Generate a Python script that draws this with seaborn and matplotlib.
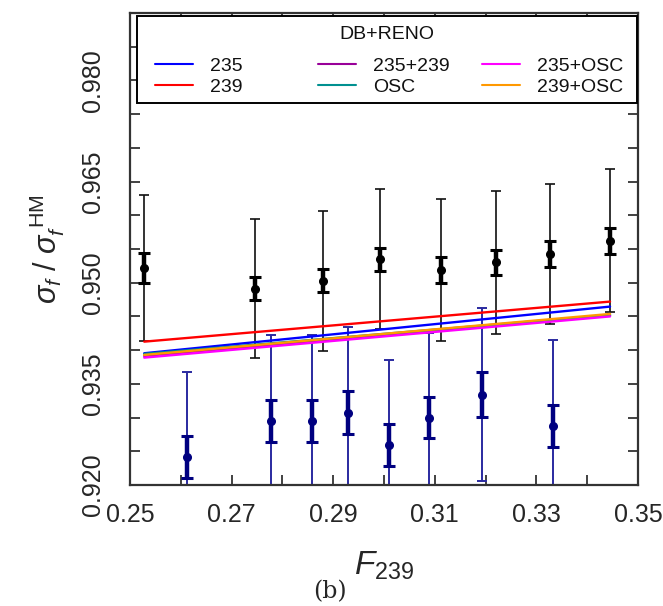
import numpy as np
import pandas as pd
import matplotlib
matplotlib.use("Agg")
import matplotlib.pyplot as plt
from matplotlib.ticker import MultipleLocator, FixedLocator
from matplotlib.patches import Rectangle
from matplotlib.legend import Legend
import seaborn as sns

# ---------------- data ----------------
# Daya Bay (black)
db_f239 = [0.2528, 0.2747, 0.2880, 0.2993, 0.3113, 0.3221, 0.3327, 0.3445]
db_ratio = [0.9522, 0.9491, 0.9503, 0.9535, 0.9519, 0.9530, 0.9543, 0.9562]
db_stat = [0.0022, 0.0017, 0.0017, 0.0017, 0.0019, 0.0019, 0.0019, 0.0019]
db_tot = [0.0108, 0.0103, 0.0104, 0.0104, 0.0105, 0.0106, 0.0104, 0.0106]

# RENO (navy)
reno_f239 = [0.2612, 0.2777, 0.2859, 0.2930, 0.3009, 0.3088, 0.3192, 0.3333]
reno_ratio = [0.9241, 0.9295, 0.9295, 0.9307, 0.9259, 0.9300, 0.9334, 0.9287]
reno_stat = [0.0031, 0.0031, 0.0031, 0.0032, 0.0031, 0.0031, 0.0033, 0.0031]
reno_tot = [0.0127, 0.0128, 0.0128, 0.0128, 0.0126, 0.0126, 0.0128, 0.0128]

# fit lines (start / end)
fit_x = [0.2528, 0.3445]
fit_models = ["235", "239", "235+239", "OSC", "235+OSC", "239+OSC"]
fit_235 = [0.93954, 0.94646]
fit_239 = [0.94126, 0.94720]
fit_235_239 = [0.93914, 0.94515]
fit_osc = [0.93944, 0.94522]
fit_235_osc = [0.93889, 0.94500]
fit_239_osc = [0.93929, 0.94537]
fit_colors = ["#0000ff", "#ff0000", "#990099", "#009090", "#ff00ff", "#ff9900"]

x_ticklabels = ["0.25", "0.27", "0.29", "0.31", "0.33", "0.35"]
y_ticklabels = ["0.920", "0.935", "0.950", "0.965", "0.980"]
legend_title = "DB+RENO"

# ---------------- style ----------------
sns.set_theme(style="ticks")
plt.rcParams["font.family"] = ["Liberation Sans", "DejaVu Sans"]
plt.rcParams["mathtext.fontset"] = "custom"
plt.rcParams["mathtext.rm"] = "Liberation Sans"
plt.rcParams["mathtext.it"] = "Liberation Sans:italic"
plt.rcParams["mathtext.bf"] = "Liberation Sans:bold"

fig = plt.figure(figsize=(6.63, 6.06), dpi=100)
ax = fig.add_axes([130 / 663, 1 - 485 / 606, 508 / 663, 472 / 606])

# error bars: Daya Bay
ax.errorbar(db_f239, db_ratio, yerr=db_tot, fmt="none", ecolor="#111111",
            elinewidth=1.2, capsize=3.5, capthick=1.2, zorder=2)
ax.errorbar(db_f239, db_ratio, yerr=db_stat, fmt="o", color="#000000",
            ms=5.5, elinewidth=3.2, capsize=4, capthick=2.2, zorder=3)
# error bars: RENO
ax.errorbar(reno_f239, reno_ratio, yerr=reno_tot, fmt="none", ecolor="#2a2aa0",
            elinewidth=1.4, capsize=3.5, capthick=1.4, zorder=2)
ax.errorbar(reno_f239, reno_ratio, yerr=reno_stat, fmt="o", color="#000080",
            ms=5.5, elinewidth=3.2, capsize=4, capthick=2.2, zorder=3)

# fit lines via seaborn
fit_vals = [fit_235, fit_239, fit_235_239, fit_osc, fit_235_osc, fit_239_osc]
rows = []
for m, vals in zip(fit_models, fit_vals):
    for xv, yv in zip(fit_x, vals):
        rows.append({"F239": xv, "ratio": yv, "model": m})
df_lines = pd.DataFrame(rows)
sns.lineplot(data=df_lines, x="F239", y="ratio", hue="model",
             hue_order=fit_models, palette=fit_colors, linewidth=1.7,
             ax=ax, zorder=4, legend=True)

handles, labels = ax.get_legend_handles_labels()
if ax.get_legend() is not None:
    ax.get_legend().remove()

# legend: framed box with title and three columns
x0, x1, y0, y1 = 0.0138, 0.998, 0.8093, 0.9936
ax.add_patch(Rectangle((x0, y0), x1 - x0, y1 - y0, transform=ax.transAxes,
                       facecolor="white", edgecolor="#000000", lw=1.4,
                       zorder=5, clip_on=False))
ax.text((x0 + x1) / 2, 0.9555, legend_title, transform=ax.transAxes,
        ha="center", va="center", fontsize=14, color="#111111", zorder=6)
col_x = [0.0492, 0.3701, 0.6929]
for i, cx in enumerate(col_x):
    hs = handles[2 * i:2 * i + 2]
    ls = labels[2 * i:2 * i + 2]
    lg = Legend(ax, hs, ls, loc="center left", bbox_to_anchor=(cx, 0.8655),
                frameon=False, fontsize=14, handlelength=1.95,
                handletextpad=0.88, labelspacing=0.2, borderpad=0,
                borderaxespad=0)
    lg.set_zorder(6)
    for line in lg.get_lines():
        line.set_linewidth(1.5)
    for t in lg.get_texts():
        t.set_color("#111111")
    ax.add_artist(lg)

# axes
ax.set_xlim(0.25, 0.35)
ax.set_ylim(0.920, 0.990)
ax.xaxis.set_major_locator(FixedLocator([0.25, 0.27, 0.29, 0.31, 0.33, 0.35]))
ax.set_xticklabels(x_ticklabels)
ax.xaxis.set_minor_locator(FixedLocator([0.26, 0.28, 0.30, 0.32, 0.34]))
ax.yaxis.set_major_locator(FixedLocator([0.920, 0.935, 0.950, 0.965, 0.980]))
ax.set_yticklabels(y_ticklabels, rotation=90, va="center")
ax.yaxis.set_minor_locator(MultipleLocator(0.005))
ax.tick_params(which="both", direction="in", top=True, right=True,
               length=7, width=1.3, color="#333333")
ax.tick_params(axis="x", which="major", labelsize=18, pad=13)
ax.tick_params(axis="y", which="major", labelsize=18, pad=18)
for s in ax.spines.values():
    s.set_linewidth(1.6)
    s.set_color("#333333")

ax.set_xlabel(r"$F_{\mathrm{239}}$", fontsize=24, labelpad=16)
ax.set_ylabel(r"$\sigma_f\ /\ \sigma_f^{\ \mathrm{HM}}$", fontsize=22, labelpad=10)
fig.text(330 / 663, 1 - 592 / 606, "(b)", family="DejaVu Serif",
         fontsize=17, ha="center", va="center")

fig.savefig("out.png", dpi=100)
